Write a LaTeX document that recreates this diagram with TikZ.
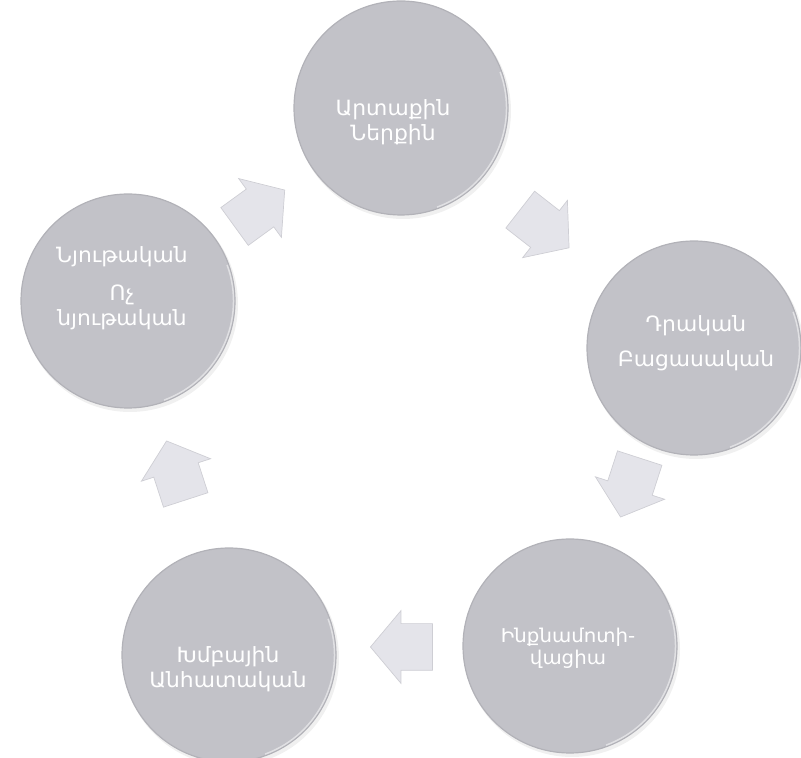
\documentclass[tikz,border=0pt]{standalone}
\usepackage{fontspec}
\newfontfamily\armfont[Script=Armenian, FakeStretch=1.04]{DejaVu Sans}
\usetikzlibrary{shapes.arrows}
\definecolor{cfill}{RGB}{194,194,200}
\definecolor{cedge}{RGB}{178,178,184}
\definecolor{afill}{RGB}{228,228,234}
\definecolor{aedge}{RGB}{206,206,212}
\tikzset{
  disc/.style={circle, minimum size=214pt, inner sep=0pt, fill=cfill, draw=cedge, line width=1.2pt},
  discshadow/.style={circle, minimum size=216pt, inner sep=0pt, fill=black, opacity=0.06},
  lbl/.style={text=white, font=\armfont\fontsize{21}{25}\selectfont, align=center, inner sep=0pt},
  lblsmall/.style={text=white, font=\armfont\fontsize{19}{22}\selectfont, align=center, inner sep=0pt},
  blockarrow/.style={single arrow, draw=aedge, fill=afill, line width=0.7pt, anchor=tip,
    minimum height=62pt, inner xsep=0pt, inner ysep=23pt, single arrow head extend=13pt,
    single arrow tip angle=100}
}
\begin{document}
\begin{tikzpicture}[x=1pt,y=1pt]
\useasboundingbox (0,0) rectangle (801,758);
% shadows
\foreach \p in {(403,647),(696,407),(572,109),(231,100),(130,454)}{
  \node[discshadow] at \p {};
}
% circles
\node[disc] (c1) at (401,650) {};
\node[disc] (c2) at (694,410) {};
\node[disc] (c3) at (570,112) {};
\node[disc] (c4) at (229,103) {};
\node[disc] (c5) at (128,457) {};
% highlights
\foreach \c in {c1,c2,c3,c4,c5}{
  \draw[white, opacity=0.5, line width=1.5pt] ([shift={(-70:105.5)}]\c.center) arc[start angle=-70, end angle=20, radius=105.5];
}
% labels
\node[lbl] (t1) at (393,636) {Արտաքին\\Ներքին};
\node[lbl] (t2) at (696,415) {Դրական\\[10pt]Բացասական};
\node[lblsmall] (t3) at (568,110) {Ինքնամոտի-\\վացիա};
\node[lbl] (t4) at (228,89) {Խմբային\\Անհատական};
\node[lbl] (t5) at (122,470) {Նյութական\\[13pt]Ոչ\\նյութական};
% arrows (placed by tip)
\node[blockarrow, rotate=36] (a1) at ([shift={(36:31)}]260,550) {};
\node[blockarrow, rotate=-38] (a2) at ([shift={(-38:31)}]545,529) {};
\node[blockarrow, rotate=-108] (a3) at ([shift={(-108:31)}]630,270) {};
\node[blockarrow, rotate=180] (a4) at ([shift={(180:31)}]401,111) {};
\node[blockarrow, rotate=108] (a5) at ([shift={(108:31)}]176,288) {};
\end{tikzpicture}
\end{document}
